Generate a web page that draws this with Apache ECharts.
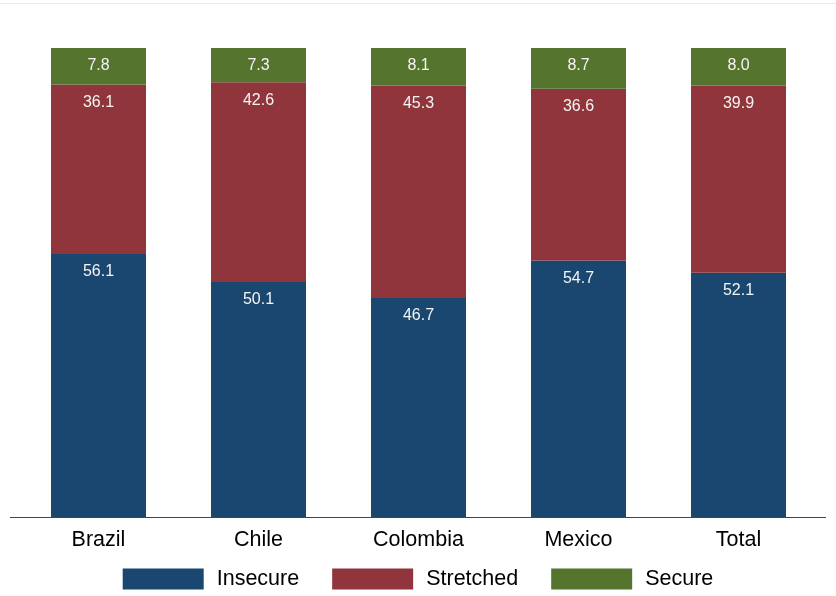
<!DOCTYPE html>
<html>
<head>
<meta charset="utf-8">
<script src="https://cdn.jsdelivr.net/npm/echarts@6/dist/echarts.min.js"></script>
<style>html,body{margin:0;padding:0;background:#fff}#c{width:836px;height:596px}</style>
</head>
<body>
<div id="c"></div>
<script>
var categories = ['Brazil', 'Chile', 'Colombia', 'Mexico', 'Total'];
var insecure = [56.1, 50.1, 46.7, 54.7, 52.1];
var stretched = [36.1, 42.6, 45.3, 36.6, 39.9];
var secure = [7.8, 7.3, 8.1, 8.7, 8.0];
var seriesNames = ['Insecure', 'Stretched', 'Secure'];
var colors = ['#1a476f', '#90353b', '#55752f'];

var chart = echarts.init(document.getElementById('c'), null, {renderer: 'canvas'});
function mk(name, data, color) {
  return {
    name: name, type: 'bar', stack: 's', data: data, barWidth: 95,
    itemStyle: {color: color},
    label: {show: true, position: 'insideTop', distance: 10, color: '#f4f4f4',
      fontFamily: 'Liberation Sans, Arial, sans-serif', fontSize: 16,
      formatter: function (p) { return p.value.toFixed(1); }}
  };
}
chart.setOption({
  animation: false,
  backgroundColor: '#ffffff',
  grid: {left: 18.5, right: 17.5, top: 48, bottom: 79},
  xAxis: {type: 'category', data: categories,
    axisLine: {show: false}, axisTick: {show: false},
    axisLabel: {color: '#000', fontSize: 21.5, margin: 12, fontFamily: 'Liberation Sans, Arial, sans-serif'}},
  yAxis: {type: 'value', min: 0, max: 100, show: false, splitLine: {show: false}},
  legend: {top: 563, left: 'center', itemWidth: 81, itemHeight: 21, itemGap: 33,
    icon: 'rect', data: seriesNames,
    textStyle: {fontSize: 21.5, color: '#000', padding: [0, 0, 0, 8], fontFamily: 'Liberation Sans, Arial, sans-serif'}},
  graphic: [
    {type: 'line', shape: {x1: 10, y1: 517.5, x2: 826, y2: 517.5}, style: {stroke: '#444', lineWidth: 1}, z: 10},
    {type: 'line', shape: {x1: 0, y1: 3.5, x2: 836, y2: 3.5}, style: {stroke: '#e6ecef', lineWidth: 1}}
  ],
  series: [
    mk(seriesNames[0], insecure, colors[0]),
    mk(seriesNames[1], stretched, colors[1]),
    mk(seriesNames[2], secure, colors[2])
  ]
});
</script>
</body>
</html>
